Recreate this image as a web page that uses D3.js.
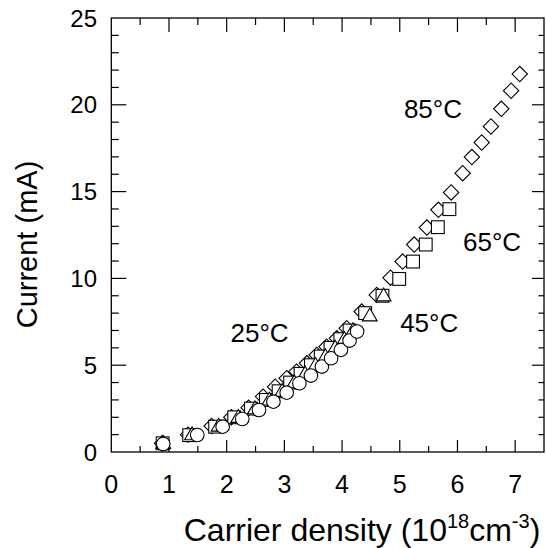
<!DOCTYPE html>
<html><head><meta charset="utf-8">
<script src="https://cdn.jsdelivr.net/npm/d3@7"></script>
<style>
html,body{margin:0;padding:0;background:#fff;}
svg{display:block;font-family:"Liberation Sans",Arial,Helvetica,sans-serif;}
</style></head>
<body>
<script>
// ---- data (carrier density in 1e18 cm^-3, current in mA) ----
const xTicks = [0,1,2,3,4,5,6,7];
const yTicks = [0,5,10,15,20,25];

const d85x = [0.88,1.33,1.74,2.08,2.38,2.63,2.84,3.04,3.21,3.39,3.56,3.73,3.91,4.08,4.34,4.60,4.84,5.05,5.25,5.47,5.67,5.89,6.09,6.25,6.42,6.58,6.76,6.93,7.08];
const d85y = [0.50,1.00,1.50,2.00,2.55,3.19,3.76,4.25,4.63,5.11,5.59,6.07,6.55,7.13,8.09,9.05,10.04,10.97,11.95,12.93,13.95,14.95,16.06,16.99,17.83,18.75,19.77,20.81,21.77];

const d65x = [0.89,1.35,1.80,2.13,2.42,2.68,2.90,3.10,3.28,3.46,3.63,3.80,3.97,4.13,4.40,4.70,4.99,5.23,5.45,5.66,5.86];
const d65y = [0.50,0.97,1.46,2.00,2.50,3.00,3.50,4.00,4.50,5.00,5.50,6.00,6.50,7.00,8.00,9.00,9.97,10.97,11.95,12.95,13.99];

const d45x = [0.90,1.40,1.86,2.20,2.49,2.74,2.96,3.17,3.36,3.54,3.71,3.88,4.04,4.19,4.48,4.72];
const d45y = [0.45,0.95,1.45,1.95,2.45,2.95,3.45,3.95,4.45,4.95,5.45,5.95,6.45,6.95,7.80,8.95];

const d25x = [0.90,1.49,1.93,2.27,2.56,2.81,3.04,3.26,3.46,3.65,3.81,3.98,4.13,4.26];
const d25y = [0.46,0.98,1.46,1.90,2.42,2.90,3.42,3.96,4.40,4.92,5.40,5.88,6.42,6.94];

const labels = [
  {t:"85°C", x:5.575, y:19.24},
  {t:"65°C", x:6.60, y:11.58},
  {t:"45°C", x:5.51, y:6.91},
  {t:"25°C", x:2.57, y:6.34}
];

// ---- layout ----
const W = 546, H = 548;
const L = 111.3, R = 544, T = 18, B = 452;

const x = d3.scaleLinear().domain([0,7.5]).range([L,R]);
const y = d3.scaleLinear().domain([0,25]).range([B,T]);

const svg = d3.select("body").append("svg").attr("width",W).attr("height",H);

// frame
svg.append("rect").attr("x",L).attr("y",T).attr("width",R-L).attr("height",B-T)
  .attr("fill","none").attr("stroke","#000").attr("stroke-width",1.3);

// ticks
const halfX = d3.range(0.5,7.5,0.5);
const ticksG = svg.append("g").attr("stroke","#000").attr("stroke-width",1.2);
halfX.forEach(v=>{
  const major = Math.abs(v-Math.round(v))<1e-6;
  ticksG.append("line").attr("x1",x(v)).attr("x2",x(v)).attr("y1",B).attr("y2",B-(major?12:6));
  ticksG.append("line").attr("x1",x(v)).attr("x2",x(v)).attr("y1",T).attr("y2",T+(major?14:7));
});
d3.range(1,25).forEach(v=>{
  const major = v%5===0;
  ticksG.append("line").attr("y1",y(v)).attr("y2",y(v)).attr("x1",L).attr("x2",L+(major?15:7.5));
  ticksG.append("line").attr("y1",y(v)).attr("y2",y(v)).attr("x1",R).attr("x2",R-(major?12:5.5));
});

// tick labels
svg.append("g").selectAll("text").data(xTicks).join("text")
  .attr("x",d=>x(d)).attr("y",493).attr("text-anchor","middle")
  .attr("font-size",25).text(d=>d);
svg.append("g").selectAll("text").data(yTicks).join("text")
  .attr("x",97).attr("y",d=>y(d)+8.6).attr("text-anchor","end")
  .attr("font-size",24).text(d=>d);

// axis titles
svg.append("text").attr("transform","translate(37,244.5) rotate(-90)")
  .attr("text-anchor","middle").attr("font-size",29).text("Current (mA)");
const xt = svg.append("text").attr("x",362).attr("y",541).attr("text-anchor","middle").attr("font-size",32);
xt.append("tspan").text("Carrier density (10");
xt.append("tspan").attr("dy",-13).attr("font-size",20).text("18");
xt.append("tspan").attr("dy",13).text("cm");
xt.append("tspan").attr("dy",-13).attr("font-size",20).text("-3");
xt.append("tspan").attr("dy",13).text(")");

// markers
const mk = svg.append("g").attr("fill","#fff").attr("stroke","#000").attr("stroke-width",1.1);
const pts = (xs,ys)=>xs.map((v,i)=>({x:v,y:ys[i]}));

mk.append("g").selectAll("path").data(pts(d85x,d85y)).join("path")
  .attr("d",d3.symbol(d3.symbolSquare,118)())
  .attr("transform",d=>`translate(${x(d.x)},${y(d.y)}) rotate(45)`);
mk.append("g").selectAll("rect").data(pts(d65x,d65y)).join("rect")
  .attr("x",d=>x(d.x)-6.4).attr("y",d=>y(d.y)-6.4).attr("width",12.8).attr("height",12.8);
mk.append("g").selectAll("path").data(pts(d45x,d45y)).join("path")
  .attr("d",d3.symbol(d3.symbolTriangle,95)())
  .attr("transform",d=>`translate(${x(d.x)},${y(d.y)})`);
mk.append("g").selectAll("circle").data(pts(d25x,d25y)).join("circle")
  .attr("cx",d=>x(d.x)).attr("cy",d=>y(d.y)).attr("r",6.8);

// temperature labels
svg.append("g").selectAll("text").data(labels).join("text")
  .attr("x",d=>x(d.x)).attr("y",d=>y(d.y)).attr("text-anchor","middle")
  .attr("font-size",26).text(d=>d.t);
</script>
</body></html>
